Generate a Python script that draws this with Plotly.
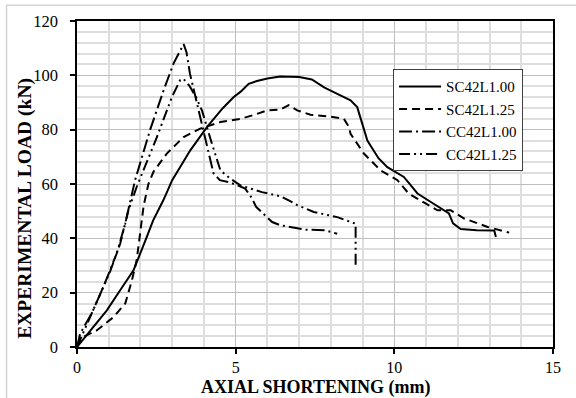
import plotly.graph_objects as go

# ---- data ----
sc100_x = [0, 0.5, 0.94, 1.36, 1.78, 2.2, 2.4, 2.72, 3.0, 3.57, 4.1, 4.6, 4.94, 5.15, 5.41, 5.67, 6.0, 6.4, 7.0,
           7.4, 7.8, 8.3, 8.62, 8.83, 9.15, 9.5, 9.78, 10.3, 10.73, 11.2, 11.55, 11.72, 11.85, 12.09, 12.6, 13.15, 13.2]
sc100_y = [0, 7.4, 13.5, 20.9, 28.2, 40.5, 46.6, 54, 61.4, 72.4, 81, 88, 92, 93.9, 96.9, 97.9, 98.8, 99.6, 99.4,
           98.5, 95.5, 92.6, 90.8, 88.3, 76, 69.5, 66.2, 62.6, 56.5, 53, 50.6, 49.2, 45.5, 43.4, 43.0, 42.9, 40.5]

sc125_x = [0, 0.2, 0.62, 1.15, 1.52, 1.73, 1.88, 2.0, 2.1, 2.25, 2.41, 2.83, 3.36, 3.88, 4.52, 5.15, 5.6, 5.99,
           6.41, 6.67, 6.94, 7.36, 8.0, 8.41, 8.57, 8.62, 9.04, 9.57, 10.1, 10.45, 10.9, 11.36, 11.78, 12.2,
           12.94, 13.62]
sc125_y = [0, 3.7, 6.1, 11, 16, 24.5, 31.9, 42, 52, 60, 64.5, 71.2, 77.3, 80.4, 82.8, 84, 85.5, 87.1,
           87.4, 89, 87.1, 85.5, 84.8, 84, 81, 78.5, 71.2, 65, 61.4, 56.5, 53.5, 50.3, 50.3, 47.3,
           44.2, 42.1]

cc100_x = [0, 0.1, 0.46, 0.83, 1.25, 1.52, 1.83, 2.3, 2.73, 3.04, 3.36, 3.45, 3.56, 3.72, 3.95, 4.15, 4.3,
           4.5, 4.77, 5.0, 5.3, 5.5, 5.65, 6.15, 6.41, 7.2, 7.8, 8.2]
cc100_y = [0, 4.9, 12.3, 22.1, 34.4, 45.4, 61.4, 79.8, 94.5, 104.3, 111.5, 108.5, 100.6, 92.6, 81, 71, 64,
           61.4, 60.7, 59.8, 58.3, 55, 51.5, 46, 44.8, 43.2, 43, 41.7]

cc125_x = [0, 0.3, 0.73, 1.05, 1.36, 1.62, 1.88, 2.09, 2.52, 2.99, 3.25, 3.35, 3.55, 3.75, 3.94, 4.25, 4.52,
           4.83, 5.15, 5.83, 6.41, 6.67, 6.94, 7.46, 8.2, 8.78, 8.78]
cc125_y = [0, 8, 19.6, 28, 38, 50.3, 58.9, 65, 77.3, 92, 98.2, 98.8, 96, 92, 87, 74.9, 65,
           62, 59.5, 57, 55.5, 54, 52.2, 49.7, 47.8, 45.4, 29.4]

names = ["SC42L1.00", "SC42L1.25", "CC42L1.00", "CC42L1.25"]
xs = [sc100_x, sc125_x, cc100_x, cc125_x]
ys = [sc100_y, sc125_y, cc100_y, cc125_y]
dashes = ["solid", "8px,5px", "13px,4px,2px,4px", "11px,4px,2px,4px,2px,4px"]

SERIF = "Liberation Serif, Times New Roman, serif"

fig = go.Figure()
for n, x, y, d in zip(names, xs, ys, dashes):
    fig.add_trace(go.Scatter(x=x, y=y, mode="lines", name=n,
                             line=dict(color="black", width=2, dash=d)))

fig.update_layout(
    width=576, height=398,
    margin=dict(l=77, r=23, t=21, b=51),
    paper_bgcolor="white", plot_bgcolor="white",
    font=dict(family=SERIF, color="black"),
    legend=dict(x=0.664, y=0.852, xanchor="left", yanchor="top",
                bgcolor="white", bordercolor="#404040", borderwidth=1,
                font=dict(family=SERIF, size=15, color="black"),
                itemwidth=42, tracegroupgap=0),
    showlegend=True,
)

fig.update_xaxes(range=[0, 15], dtick=5, tick0=0,
                 showline=True, linecolor="black", linewidth=1.5, mirror=True,
                 ticks="outside", ticklen=5, tickcolor="black", tickwidth=1.5,
                 showgrid=True, gridcolor="#bdbdbd", gridwidth=1,
                 minor=dict(dtick=1, showgrid=True, gridcolor="#dedede", gridwidth=1.5),
                 zeroline=False, ticklabelstandoff=0,
                 tickfont=dict(family=SERIF, size=16, color="black"))
fig.update_yaxes(range=[0, 120], dtick=20, tick0=0,
                 showline=True, linecolor="black", linewidth=1.5, mirror=True,
                 ticks="outside", ticklen=5, tickcolor="black", tickwidth=1.5,
                 showgrid=True, gridcolor="#bdbdbd", gridwidth=1,
                 minor=dict(dtick=4, showgrid=True, gridcolor="#dedede", gridwidth=1.5),
                 zeroline=False, ticklabelstandoff=9,
                 tickfont=dict(family=SERIF, size=16.5, color="black"))

# axis titles
fig.add_annotation(text="<b>AXIAL SHORTENING (mm)</b>", xref="paper", yref="paper",
                   x=0.5, y=-0.124, xanchor="center", yanchor="middle", showarrow=False,
                   font=dict(family=SERIF, size=18, color="black"))
fig.add_annotation(text="<b>EXPERIMENTAL LOAD (kN)</b>", xref="paper", yref="paper",
                   x=-0.1093, y=0.427, xanchor="center", yanchor="middle", showarrow=False,
                   textangle=-90, font=dict(family=SERIF, size=19.5, color="black"))

# outer chart-area border
fig.add_shape(type="rect", xref="paper", yref="paper",
              x0=-0.148, x1=1.1, y0=-0.3, y1=1.048,
              line=dict(color="#d4d4d4", width=1.5), fillcolor="rgba(0,0,0,0)", layer="below")

fig.write_html("out.html")
